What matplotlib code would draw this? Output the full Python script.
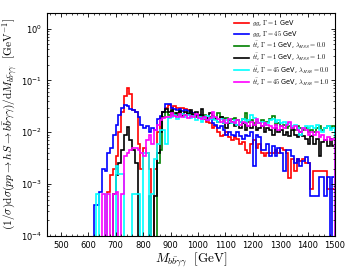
import numpy as np
import matplotlib
matplotlib.use("Agg")
import matplotlib.pyplot as plt
import matplotlib.ticker as ticker
from matplotlib.font_manager import FontProperties

# bin edges: 10 GeV bins from 620 to 1500 GeV
bin_lo = 620
bin_hi = 1500
bin_width = 10

# normalised distributions, one value per bin (first value = 620-630 GeV)
gg_w1 = [0, 0, 0, 0, 0, 7e-4, 1.5e-3, 2e-3, 3.5e-3, 1e-2,
         2.5e-2, 5e-2, 7e-2, 5.5e-2, 2.7e-2, 2.5e-2, 6e-3, 2e-3, 5e-3, 4e-3,
         2e-3, 0, 2e-3, 1e-2, 2e-2, 2.5e-2, 3e-2, 0.033, 0.03, 0.032,
         0.03, 0.029, 0.03, 0.028, 0.027, 0.025, 0.024, 0.021, 0.02, 0.019,
         0.018, 0.016, 0.015, 0.012, 0.013, 0.01, 0.0085, 0.009, 0.01, 0.008,
         0.007, 0.008, 0.0075, 0.006, 0.0065, 0.0045, 0.004, 0.006, 0.007, 0.005,
         0.006, 0.004, 0.0035, 0.004, 0.004, 0.004, 0.0045, 0.004, 0.005, 0.0045,
         0.004, 0.0013, 0.003, 0.0018, 0.003, 0.0028, 0.003, 0.0025, 0.0025, 0.0008,
         0.0018, 0.0018, 0.0018, 0.0018, 0.0018, 0.0008, 0.0008, 0.0008]

gg_w45 = [4e-4, 4e-4, 7e-4, 2e-3, 1.8e-3, 4e-3, 5e-3, 9e-3, 1.4e-2, 2.2e-2,
          3e-2, 3.4e-2, 3.2e-2, 2.8e-2, 2.7e-2, 2.5e-2, 2e-2, 1.4e-2, 1.2e-2, 1.3e-2,
          1e-2, 1.2e-2, 1.1e-2, 1.8e-2, 2.1e-2, 2.5e-2, 3.5e-2, 0.035, 0.03, 0.028,
          0.027, 0.028, 0.026, 0.027, 0.026, 0.025, 0.024, 0.022, 0.02, 0.022,
          0.019, 0.017, 0.018, 0.015, 0.014, 0.012, 0.013, 0.011, 0.009, 0.010,
          0.009, 0.0085, 0.010, 0.0085, 0.0075, 0.009, 0.0085, 0.010, 0.0022, 0.009,
          0.008, 0.0045, 0.0045, 0.006, 0.0035, 0.0055, 0.0035, 0.005, 0.004, 0.0018,
          0.0045, 0.0045, 0.0035, 0.0025, 0.003, 0.0022, 0.0028, 0.0033, 0.0025, 0.0006,
          0.0006, 0.0006, 0.0014, 0.0014, 0.0006, 0.0014, 0, 0.0014]

tt_w1_l0 = [0, 0, 0, 0, 0, 0, 0, 0, 0, 0,
            0, 0, 0, 0, 0, 0, 0, 0, 0, 0,
            0, 0, 0, 2.5e-3, 4.5e-3, 2e-2, 2.5e-2, 0.022, 0.026, 0.024,
            0.022, 0.025, 0.023, 0.022, 0.024, 0.021, 0.023, 0.02, 0.021, 0.02,
            0.022, 0.019, 0.02, 0.021, 0.019, 0.024, 0.02, 0.018, 0.019, 0.017,
            0.018, 0.019, 0.017, 0.016, 0.018, 0.024, 0.016, 0.017, 0.015, 0.016,
            0.015, 0.017, 0.014, 0.016, 0.018, 0.021, 0.014, 0.015, 0.013, 0.014,
            0.012, 0.013, 0.012, 0.011, 0.013, 0.012, 0.011, 0.012, 0.010, 0.011,
            0.010, 0.012, 0.013, 0.011, 0.012, 0.013, 0.012, 0.013]

tt_w1_l1 = [0, 0, 0, 0, 0, 0, 0, 6.5e-4, 1.5e-3, 2.5e-3,
            4.5e-3, 9e-3, 1.25e-2, 7e-3, 4.5e-3, 2.5e-3, 0, 0, 0, 0,
            6e-4, 0, 6e-4, 4e-3, 1e-2, 2.5e-2, 2.8e-2, 0.025, 0.027, 0.022,
            0.024, 0.026, 0.021, 0.025, 0.023, 0.027, 0.022, 0.025, 0.022, 0.028,
            0.02, 0.019, 0.024, 0.02, 0.018, 0.016, 0.02, 0.015, 0.012, 0.015,
            0.016, 0.013, 0.014, 0.012, 0.015, 0.011, 0.013, 0.012, 0.014, 0.011,
            0.012, 0.013, 0.01, 0.012, 0.011, 0.009, 0.012, 0.010, 0.011, 0.009,
            0.01, 0.0085, 0.011, 0.009, 0.008, 0.01, 0.0085, 0.0075, 0.006, 0.0085,
            0.006, 0.0075, 0.0035, 0.0065, 0.007, 0.0055, 0.0075, 0.0055]

tt_w45_l0 = [0, 6.5e-4, 0, 0, 6.5e-4, 0, 0, 0, 2.2e-3, 1.6e-3,
             1.6e-3, 0, 0, 0, 6.5e-4, 6.5e-4, 6.5e-4, 0, 4e-3, 4e-3,
             0, 6.5e-4, 3e-3, 6e-3, 1.1e-2, 1.1e-2, 6e-3, 0.019, 0.02, 0.022,
             0.018, 0.021, 0.023, 0.02, 0.022, 0.019, 0.021, 0.017, 0.02, 0.016,
             0.019, 0.021, 0.018, 0.02, 0.017, 0.016, 0.018, 0.015, 0.017, 0.016,
             0.015, 0.017, 0.014, 0.016, 0.018, 0.015, 0.017, 0.022, 0.019, 0.017,
             0.015, 0.016, 0.014, 0.015, 0.017, 0.018, 0.016, 0.017, 0.015, 0.016,
             0.014, 0.015, 0.013, 0.014, 0.012, 0.009, 0.012, 0.013, 0.012, 0.013,
             0.012, 0.014, 0.011, 0.01, 0.012, 0.013, 0.011, 0.012]

tt_w45_l1 = [0, 0, 0, 6.5e-4, 0, 6.5e-4, 0, 6.5e-4, 7e-4, 0,
             6.5e-4, 3.5e-3, 4e-3, 4.5e-3, 5e-3, 5e-3, 4.5e-3, 4e-3, 3.5e-3, 7e-3,
             9e-3, 6e-3, 1.1e-2, 1.4e-2, 1.7e-2, 1.9e-2, 2e-2, 0.02, 0.024, 0.021,
             0.02, 0.023, 0.02, 0.022, 0.019, 0.021, 0.02, 0.023, 0.019, 0.018,
             0.02, 0.017, 0.019, 0.025, 0.02, 0.018, 0.016, 0.017, 0.015, 0.018,
             0.016, 0.015, 0.017, 0.014, 0.016, 0.015, 0.013, 0.016, 0.014, 0.018,
             0.015, 0.013, 0.015, 0.014, 0.013, 0.012, 0.014, 0.011, 0.013, 0.012,
             0.014, 0.016, 0.012, 0.013, 0.011, 0.010, 0.012, 0.011, 0.009, 0.010,
             0.009, 0.01, 0.008, 0.009, 0.007, 0.008, 0.007, 0.0075]

series = [
    (gg_w1, "red", r"$gg$, $\Gamma=1$ GeV"),
    (gg_w45, "blue", r"$gg$, $\Gamma=45$ GeV"),
    (tt_w1_l0, "green", r"$t\bar{t}$, $\Gamma=1$ GeV, $\lambda_{HSS}=0.0$"),
    (tt_w1_l1, "black", r"$t\bar{t}$, $\Gamma=1$ GeV, $\lambda_{HSS}=1.0$"),
    (tt_w45_l0, "cyan", r"$t\bar{t}$, $\Gamma=45$ GeV, $\lambda_{HSS}=0.0$"),
    (tt_w45_l1, "magenta", r"$t\bar{t}$, $\Gamma=45$ GeV, $\lambda_{HSS}=1.0$"),
]

edges = np.arange(bin_lo, bin_hi + 1, bin_width)

fig = plt.figure(figsize=(3.49, 2.70), dpi=100)
ax = fig.add_axes([0.135, 0.126, 0.825, 0.826])

for vals, col, lab in series:
    v = np.array(vals, dtype=float)
    v = np.where(v > 0, v, 1e-6)  # empty bins drop off the bottom of the log axis
    ax.stairs(v, edges, color=col, lw=1.2, label=lab)

ax.set_yscale("log")
ax.set_xlim(450, 1500)
ax.set_ylim(1e-4, 2.0)

ax.xaxis.set_major_locator(ticker.MultipleLocator(100))
ax.xaxis.set_minor_locator(ticker.MultipleLocator(20))
ax.yaxis.set_major_locator(ticker.LogLocator(base=10, numticks=10))
ax.yaxis.set_minor_locator(ticker.LogLocator(base=10, subs=np.arange(2, 10), numticks=20))
ax.yaxis.set_minor_formatter(ticker.NullFormatter())
ax.tick_params(which="both", direction="in", top=True, right=True, labelsize=6)
ax.tick_params(which="major", length=3, width=0.6)
ax.tick_params(which="minor", length=1.5, width=0.5)
for s in ax.spines.values():
    s.set_linewidth(0.8)

ax.set_xlabel(r"$M_{b\bar{b}\gamma\gamma}\ \ [\mathrm{GeV}]$", fontsize=9.5,
              math_fontfamily="cm", labelpad=1)
ax.set_ylabel(r"$(1/\sigma)\mathrm{d}\sigma(pp\to hS\to b\bar{b}\gamma\gamma)/\mathrm{d}M_{b\bar{b}\gamma\gamma}\ \ [\mathrm{GeV}^{-1}]$",
              fontsize=8.2, math_fontfamily="cm", labelpad=1)

leg_font = FontProperties(size=4.7, math_fontfamily="cm")
ax.legend(loc="upper right", frameon=False, prop=leg_font, handlelength=2.3,
          handletextpad=0.5, labelspacing=0.15, borderaxespad=0.4)

fig.savefig("out.png", dpi=100)
